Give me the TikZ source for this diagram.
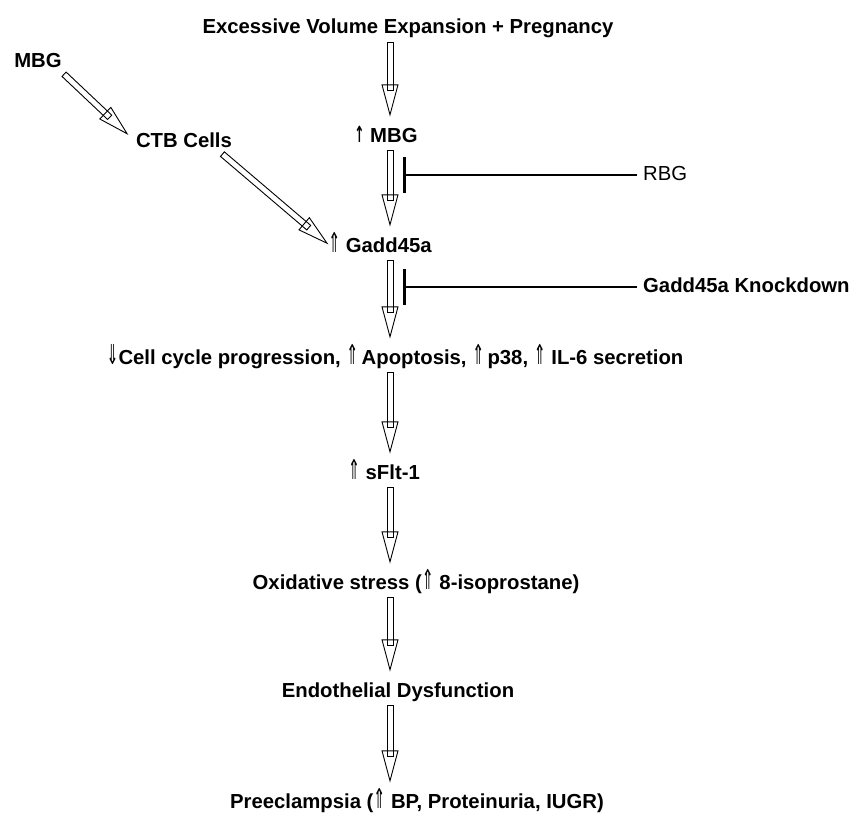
\documentclass[tikz,border=0pt]{standalone}
\usepackage{fontspec}
\setmainfont{Liberation Sans}
\newfontfamily\symfont{DejaVu Sans}
\usepackage{graphicx}
\usepackage{tikz}
\usetikzlibrary{calc}
\usetikzlibrary{arrows.meta}

% small hollow up / down arrows in the labels
\newcommand{\hup}{{\symfont\mdseries\scalebox{0.7}[1.35]{⇑}}}
\newcommand{\hdown}{{\symfont\mdseries\scalebox{0.7}[1.35]{⇓}}}
\newcommand{\solidup}{{\symfont\bfseries\scalebox{0.6}[1.1]{↑}}}
% open block arrow from #1 to #2
\newcommand{\flow}[2]{%
  \coordinate (fa) at ($(#1)!3pt!(#2)$);
  \coordinate (fb) at ($(#2)!12pt!(#1)$);
  \coordinate (fh) at ($(fb)!30pt!(fa)$);
  \coordinate (fe) at ($(fb)!24pt!(fa)$);
  \draw[flowline] ($(fa)!3pt!90:(fb)$) -- ($(fe)!3pt!-90:(fa)$)
    -- ($(fe)!3pt!90:(fa)$) -- ($(fa)!3pt!-90:(fb)$) -- cycle;
  \draw[flowline] (fb) -- ($(fh)!8pt!90:(fa)$) -- ($(fh)!8pt!-90:(fa)$) -- cycle;
}

\begin{document}
\begin{tikzpicture}[x=1pt,y=-1pt,
    lbl/.style={font=\bfseries\fontsize{20.3}{24}\selectfont,inner sep=0pt,
      text height=15pt,text depth=5pt,anchor=base},
    flowline/.style={line width=0.9pt,line join=miter},
    block/.style={line width=2pt,-{Bar[width=36pt,line width=3pt]},shorten <=6pt}]
	\fill[white] (0,0) rectangle (852,819);
	\coordinate (col) at (390,0);
	\coordinate (bar) at (403,0);
%
	\node[lbl] (top) at (408,34) {Excessive Volume Expansion + Pregnancy};
	\node[lbl] (mbg) at (386,142) {\solidup\ MBG};
	\node[lbl] (gadd) at (380,252) {\hup\ Gadd45a};
	\node[lbl] (cell) at (395,364) {\hdown Cell cycle progression, \hup\,Apoptosis, \hup\,p38, \hup\ IL-6 secretion};
	\node[lbl] (sflt) at (384,479) {\hup\ sFlt-1};
	\node[lbl] (ox) at (416,589) {Oxidative stress (\hup\ 8-isoprostane)};
	\node[lbl] (endo) at (398,697) {Endothelial Dysfunction};
	\node[lbl] (pre) at (417,808) {Preeclampsia (\hup\ BP, Proteinuria, IUGR)};
	\node[lbl] (mbgl) at (38,67) {MBG};
	\node[lbl] (ctb) at (184,147) {CTB Cells};
	\node[lbl,anchor=west,font=\fontsize{20.3}{24}\selectfont] (rbg) at (643,175) {RBG};
	\node[lbl,anchor=west] (kd) at (643,287) {Gadd45a Knockdown};
%
	\flow{top.south -| col}{mbg.north -| col}
	\flow{mbg.south -| col}{gadd.north -| col}
	\flow{gadd.south -| col}{cell.north -| col}
	\flow{cell.south -| col}{sflt.north -| col}
	\flow{sflt.south -| col}{ox.north -| col}
	\flow{ox.south -| col}{endo.north -| col}
	\flow{endo.south -| col}{pre.north -| col}
	\flow{mbgl.south east}{ctb.west}
	\coordinate (ctbout) at ($(ctb.south east)+(-12,0)$);
	\coordinate (gaddin) at ($(gadd.west)+(8,4)$);
	\flow{ctbout}{gaddin}
%
	\draw[block] (rbg.west) -- (rbg.west -| bar);
	\draw[block] (kd.west) -- (kd.west -| bar);
\end{tikzpicture}
\end{document}
